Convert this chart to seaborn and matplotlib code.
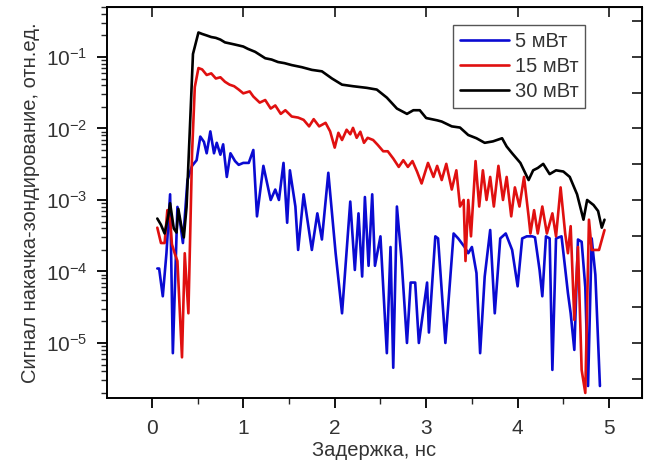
import numpy as np
import pandas as pd
import matplotlib
matplotlib.use("Agg")
import matplotlib.pyplot as plt
import seaborn as sns
from matplotlib.ticker import LogLocator, NullFormatter, MultipleLocator

# Данные
x_5 = [0.06, 0.08, 0.12, 0.16, 0.20, 0.23, 0.28, 0.31, 0.34, 0.39, 0.44, 0.49, 0.53, 0.57, 0.60,
       0.64, 0.68, 0.71, 0.75, 0.78, 0.82, 0.86, 0.91, 0.95, 1.00, 1.06, 1.11, 1.15, 1.22, 1.30,
       1.35, 1.39, 1.44, 1.48, 1.51, 1.57, 1.60, 1.66, 1.75, 1.81, 1.86, 1.93, 2.01, 2.08, 2.17,
       2.22, 2.26, 2.30, 2.33, 2.37, 2.41, 2.44, 2.50, 2.57, 2.61, 2.64, 2.68, 2.73, 2.79, 2.83,
       2.88, 2.92, 3.01, 3.03, 3.10, 3.13, 3.21, 3.30, 3.35, 3.42, 3.46, 3.50, 3.55, 3.59, 3.64,
       3.70, 3.75, 3.81, 3.87, 3.94, 4.00, 4.05, 4.10, 4.16, 4.19, 4.24, 4.27, 4.31, 4.35, 4.38,
       4.42, 4.48, 4.52, 4.55, 4.58, 4.62, 4.66, 4.70, 4.74, 4.77, 4.81, 4.85, 4.90]
y_5 = [1.1e-4, 1.1e-4, 4.5e-5, 1.8e-4, 1.2e-3, 7.2e-6, 8e-4, 4.8e-4, 2.5e-4, 1.9e-3,
       3e-3, 3.6e-3, 7.7e-3, 6.5e-3, 4.5e-3, 9.1e-3, 4.5e-3, 6.3e-3, 4.3e-3, 6e-3,
       2.1e-3, 4.5e-3, 3.5e-3, 3.1e-3, 3.3e-3, 3.3e-3, 5e-3, 5.9e-4, 3e-3, 1e-3,
       1.4e-3, 1e-3, 3.3e-3, 4.8e-4, 2.6e-3, 8.1e-4, 2e-4, 1.2e-3, 2e-4, 6.5e-4,
       2.8e-4, 2.4e-3, 1.8e-4, 2.6e-5, 9.5e-4, 1.05e-4, 6.5e-4, 8.5e-5, 1.1e-3, 1.2e-4,
       1.2e-3, 1.2e-4, 3.1e-4, 7.2e-6, 2.2e-4, 4.5e-6, 8.1e-4, 1.5e-4, 1e-5, 7e-5,
       7e-5, 1e-5, 7e-5, 1.4e-5, 3.1e-4, 2.9e-4, 1e-5, 3.4e-4, 2.9e-4, 2.2e-4,
       1.8e-4, 2.2e-4, 9.5e-5, 7.2e-6, 8.5e-5, 3.8e-4, 2.6e-5, 2.9e-4, 3.4e-4, 2e-4,
       6.2e-5, 2.9e-4, 3.1e-4, 3.1e-4, 3e-4, 1.05e-4, 4.5e-5, 3.1e-4, 2.9e-4, 4.2e-6,
       2.9e-4, 3.1e-4, 1.1e-4, 5e-5, 2.6e-5, 8e-6, 2.8e-4, 2.6e-4, 6e-5, 2.5e-6,
       2.9e-4, 9e-5, 2.5e-6]

x_15 = [0.06, 0.10, 0.14, 0.17, 0.20, 0.22, 0.25, 0.28, 0.33, 0.36, 0.40, 0.44, 0.47, 0.51, 0.55,
        0.60, 0.65, 0.70, 0.75, 0.80, 0.85, 0.90, 0.95, 1.00, 1.07, 1.11, 1.18, 1.24, 1.30, 1.35,
        1.41, 1.46, 1.53, 1.60, 1.66, 1.72, 1.77, 1.83, 1.90, 1.95, 2.00, 2.04, 2.08, 2.13, 2.17,
        2.20, 2.24, 2.28, 2.32, 2.36, 2.42, 2.47, 2.53, 2.58, 2.64, 2.70, 2.75, 2.80, 2.85, 2.90,
        2.95, 3.02, 3.08, 3.12, 3.17, 3.22, 3.28, 3.33, 3.37, 3.41, 3.43, 3.46, 3.49, 3.54, 3.58,
        3.62, 3.66, 3.70, 3.74, 3.79, 3.84, 3.88, 3.93, 3.97, 4.02, 4.07, 4.12, 4.14, 4.18, 4.22,
        4.27, 4.32, 4.38, 4.42, 4.47, 4.52, 4.55, 4.58, 4.62, 4.66, 4.70, 4.74, 4.78, 4.81, 4.89,
        4.95]
y_15 = [4.1e-4, 2.5e-4, 2.5e-4, 7.2e-4, 5.3e-4, 2.4e-4, 1.8e-4, 1.4e-4, 6.3e-6, 1.8e-4,
        2.6e-5, 4.5e-3, 0.038, 0.07, 0.067, 0.056, 0.059, 0.05, 0.052, 0.045,
        0.041, 0.039, 0.035, 0.031, 0.033, 0.028, 0.023, 0.025, 0.019, 0.021,
        0.016, 0.018, 0.0147, 0.0142, 0.0132, 0.0107, 0.0135, 0.0107, 0.012, 0.0091,
        0.0054, 0.0087, 0.0069, 0.0096, 0.0083, 0.0102, 0.0074, 0.009, 0.0063, 0.0074,
        0.0069, 0.0059, 0.0048, 0.0048, 0.0038, 0.0029, 0.0036, 0.0029, 0.0035, 0.0025,
        0.0017, 0.0033, 0.0021, 0.003, 0.0019, 0.0032, 0.0014, 0.0026, 8.1e-4, 1.0e-3,
        1.4e-4, 1.0e-3, 3.1e-4, 0.0035, 8.1e-4, 0.0026, 1.0e-3, 0.0021, 8.1e-4, 0.003,
        1.0e-3, 0.0021, 5.9e-4, 0.0015, 8.1e-4, 0.0021, 5.9e-4, 3.4e-4, 7.2e-4, 3.4e-4,
        8.1e-4, 3.4e-4, 6.5e-4, 3.1e-4, 0.0015, 3.4e-4, 1.8e-4, 4.3e-4, 2.1e-5, 2.2e-4,
        4.2e-6, 2.0e-6, 5.3e-4, 2.0e-4, 2.0e-4, 3.8e-4]

x_30 = [0.06, 0.10, 0.14, 0.18, 0.20, 0.24, 0.27, 0.29, 0.32, 0.35, 0.38, 0.42, 0.45, 0.51, 0.55,
        0.60, 0.65, 0.70, 0.75, 0.80, 0.85, 0.90, 0.95, 1.00, 1.05, 1.13, 1.24, 1.31, 1.38, 1.45,
        1.53, 1.64, 1.75, 1.86, 1.97, 2.08, 2.20, 2.35, 2.46, 2.57, 2.68, 2.79, 2.86, 2.93, 3.00,
        3.12, 3.17, 3.28, 3.37, 3.46, 3.55, 3.64, 3.73, 3.83, 3.88, 3.94, 4.03, 4.12, 4.17, 4.22,
        4.28, 4.35, 4.42, 4.50, 4.57, 4.65, 4.72, 4.76, 4.83, 4.88, 4.92, 4.95]
y_30 = [5.5e-4, 4.5e-4, 3.4e-4, 6.0e-4, 9.0e-4, 4.0e-4, 3.5e-4, 7.5e-4, 4.5e-4, 3.0e-4,
        8.0e-4, 1.3e-2, 0.11, 0.22, 0.21, 0.20, 0.19, 0.185, 0.175, 0.16,
        0.155, 0.15, 0.145, 0.14, 0.13, 0.118, 0.096, 0.092, 0.085, 0.082,
        0.077, 0.072, 0.066, 0.063, 0.05, 0.041, 0.039, 0.037, 0.035, 0.027,
        0.019, 0.016, 0.018, 0.018, 0.014, 0.013, 0.0125, 0.0107, 0.0103, 0.0081,
        0.0073, 0.0063, 0.0066, 0.0073, 0.0056, 0.0045, 0.0033, 0.0019, 0.0026, 0.0028,
        0.0032, 0.0023, 0.0026, 0.0025, 0.0021, 0.0012, 5.3e-4, 1.0e-3, 8.5e-4, 7e-4,
        4.1e-4, 5.3e-4]

series = [("5 мВт", x_5, y_5, "#0a0ad2"),
          ("15 мВт", x_15, y_15, "#e01010"),
          ("30 мВт", x_30, y_30, "#000000")]

sns.set_style("ticks")
plt.rcParams['font.family'] = ['Liberation Sans', 'DejaVu Sans']
plt.rcParams['mathtext.fontset'] = 'custom'
plt.rcParams['mathtext.rm'] = 'Liberation Sans'
plt.rcParams['mathtext.it'] = 'Liberation Sans'
text_col = "#333333"

fig = plt.figure(figsize=(6.49, 4.70), dpi=100)
ax = fig.add_axes([107 / 649, 72 / 470, 535 / 649, 391 / 470])

for name, xs, ys, col in series:
    df = pd.DataFrame({"x": xs, "y": ys})
    sns.lineplot(data=df, x="x", y="y", color=col, lw=1.9, label=name,
                 estimator=None, sort=False, ax=ax)

ax.set_yscale("log")
ax.set_xlim(-0.49, 5.36)
ax.set_ylim(1.7e-6, 0.50)

# оси
ax.xaxis.set_major_locator(MultipleLocator(1))
ax.xaxis.set_minor_locator(MultipleLocator(0.5))
ax.yaxis.set_major_locator(LogLocator(base=10, numticks=20))
ax.yaxis.set_minor_locator(LogLocator(base=10, subs=np.arange(2, 10), numticks=20))
ax.yaxis.set_minor_formatter(NullFormatter())
ax.tick_params(axis="both", which="major", direction="out", length=7, width=1.3,
               labelsize=15, labelcolor=text_col, color="black")
ax.tick_params(axis="x", which="major", pad=8)
ax.tick_params(axis="y", which="major", pad=7)
ax.tick_params(axis="both", which="minor", direction="out", length=4, width=1.0)
for s in ax.spines.values():
    s.set_linewidth(1.4)
    s.set_color("black")

top = ax.secondary_xaxis("top")
top.set_xticks([0, 1, 2, 3, 4, 5])
top.tick_params(direction="in", length=7, width=1.3, labeltop=False)
right = ax.secondary_yaxis("right")
right.set_yticks([10.0 ** (k / 2) for k in range(-11, 0)])
right.yaxis.set_minor_locator(plt.NullLocator())
right.tick_params(direction="in", length=7, width=1.3, labelright=False)

ax.set_xlabel("Задержка, нс", fontsize=14.5, color=text_col, labelpad=2)
ax.set_ylabel("Сигнал накачка-зондирование, отн.ед.", fontsize=14.5, color=text_col, labelpad=4)

leg = ax.legend(loc="upper left", bbox_to_anchor=(0.647, 0.954), borderaxespad=0,
                fontsize=14.5, handlelength=2.4, handletextpad=0.3, labelspacing=0.3,
                borderpad=0.35, frameon=True, fancybox=False, framealpha=1)
leg.get_frame().set_edgecolor("#555555")
leg.get_frame().set_linewidth(1.0)
for t in leg.get_texts():
    t.set_color(text_col)

fig.savefig("out.png", dpi=100)
